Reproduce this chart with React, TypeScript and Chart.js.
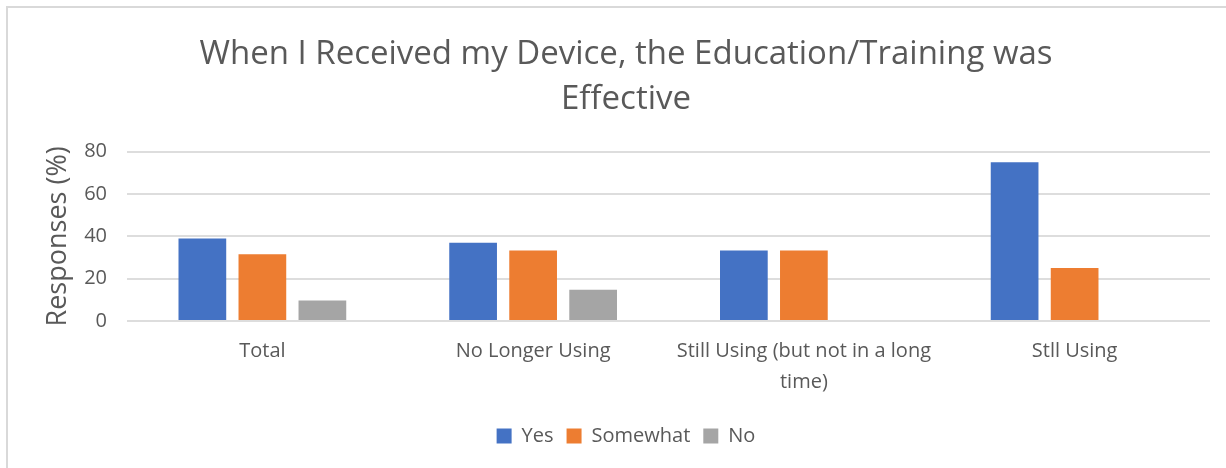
import React, { useEffect, useRef } from "react";
import { Chart, registerables } from "chart.js";

Chart.register(...registerables);

const categories: (string | string[])[] = [
  "Total",
  "No Longer Using",
  ["Still Using (but not in a long", "time)"],
  "Stll Using",
];
const yesValues = [39, 37, 33.3, 75];
const somewhatValues = [31.6, 33.3, 33.3, 25];
const noValues = [9.7, 14.8, 0, 0];
const titleLines = ["When I Received my Device, the Education/Training was", "Effective"];
const yAxisTitle = "Responses (%)";

const FONT = "'Open Sans', sans-serif";
const TEXT = "#595959";
const PAD_LEFT = 42;

export default function App() {
  const ref = useRef<HTMLCanvasElement | null>(null);
  useEffect(() => {
    document.body.style.margin = "0";
    if (!ref.current) return;
    const chart = new Chart(ref.current, {
      type: "bar",
      data: {
        labels: categories,
        datasets: [
          { label: "Yes", data: yesValues, backgroundColor: "#4472C4" },
          { label: "Somewhat", data: somewhatValues, backgroundColor: "#ED7D31" },
          { label: "No", data: noValues, backgroundColor: "#A5A5A5" },
        ],
      },
      options: {
        animation: false,
        responsive: false,
        maintainAspectRatio: false,
        layout: { padding: { left: PAD_LEFT, right: 16, top: 20, bottom: 12 } },
        datasets: { bar: { categoryPercentage: 0.665, barPercentage: 0.795 } },
        plugins: {
          title: {
            display: true,
            text: titleLines,
            color: TEXT,
            font: { family: FONT, size: 33, weight: "normal", lineHeight: 1.36 },
            padding: { top: 12, bottom: 30 },
          },
          legend: {
            position: "bottom",
            labels: {
              color: TEXT,
              font: { family: FONT, size: 20 },
              boxWidth: 15,
              boxHeight: 15,
              padding: 13,
            },
          },
          tooltip: { enabled: false },
        },
        scales: {
          x: {
            grid: { display: false, drawTicks: false },
            border: { display: false },
            ticks: {
              color: TEXT,
              font: { family: FONT, size: 20, lineHeight: 1.55 },
              padding: 15,
              maxRotation: 0,
              autoSkip: false,
            },
          },
          y: {
            min: 0,
            max: 80,
            afterFit: (scale: any) => {
              scale.width = 127 - PAD_LEFT;
            },
            ticks: {
              stepSize: 20,
              color: TEXT,
              font: { family: FONT, size: 20 },
              padding: 20,
            },
            grid: { color: "#dddddd", lineWidth: 2, drawTicks: false },
            border: { display: false },
            title: {
              display: true,
              text: yAxisTitle,
              color: TEXT,
              font: { family: FONT, size: 27, lineHeight: 1.2 },
              padding: 0,
            },
          },
        },
      },
    });
    return () => chart.destroy();
  }, []);
  return (
    <div style={{ position: "fixed", left: 0, top: 0, width: 1226, height: 468, background: "#fff", overflow: "hidden" }}>
      <canvas ref={ref} width={1226} height={468} style={{ position: "absolute", left: 0, top: 0 }} />
      <div
        style={{
          position: "absolute",
          left: 6,
          top: 6,
          width: 1300,
          height: 600,
          borderTop: "2px solid #d9d9d9",
          borderLeft: "2px solid #d9d9d9",
          pointerEvents: "none",
        }}
      />
    </div>
  );
}
